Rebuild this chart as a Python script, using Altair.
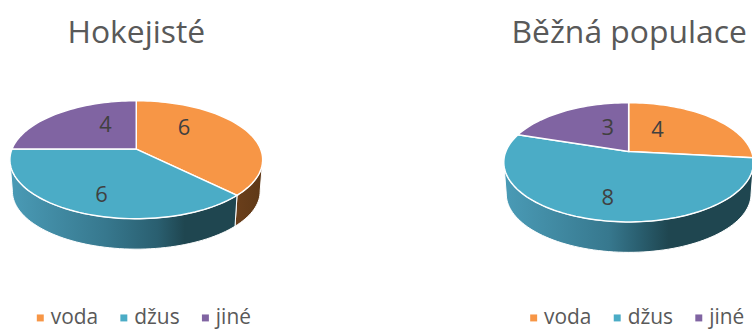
import math
import altair as alt

# Slice names, colours and the two surveys
categories = ["voda", "džus", "jiné"]
top_colors = ["#F79646", "#4BACC6", "#8064A2"]
hokejiste_values = [6, 6, 4]
populace_values = [4, 8, 3]

FONT = "Open Sans"
TILT = 0.18  # strength of the perspective foreshortening
WALL_DROP = 32
WALL_SCALE = 0.98
EDGE_ANGLE = math.degrees(math.acos(-TILT))  # where the rim meets the silhouette


def wall_fill(name, dark_from):
    if name == "voda":
        stops = [("#6B3F1B", 0), ("#5E3817", 1)]
    else:
        stops = [("#4A9BB6", 0), ("#37788E", 0.42), ("#2A5F70", dark_from - 0.12),
                 ("#1F4650", dark_from), ("#1F4650", 1)]
    return alt.Gradient(gradient="linear", x1=0, x2=1, y1=0, y2=0,
                        stops=[alt.GradientStop(color=c, offset=o) for c, o in stops])


def project(theta, rx, ry):
    """Clockwise angle from 12 o'clock to a point of the tilted disc, relative to its apex."""
    u, v = math.sin(math.radians(theta)), -math.cos(math.radians(theta))
    s = 1 / (1 - TILT * v)
    return rx * u * s, ry * v * s


def arc(start, end, rx, ry):
    n = max(2, int(abs(end - start) / 2) + 1)
    return [project(start + (end - start) * i / n, rx, ry) for i in range(n + 1)]


def polygon(points, name, apex):
    ring = [[x + apex[0], y + apex[1]] for x, y in points]
    ring.append(ring[0])
    return {"type": "Feature", "properties": {"slice": name},
            "geometry": {"type": "Polygon", "coordinates": [ring]}}


def panel(values, width, apex, rx, ry, title, title_x, label_offsets, legend_x, dark_from):
    total = sum(values)
    tops, walls, labels = [], [], []
    angle = 0
    for name, value, (dx, dy) in zip(categories, values, label_offsets):
        end = angle + 360 * value / total
        tops.append(polygon([(0, 0)] + arc(angle, end, rx, ry), name, apex))
        lo, hi = max(angle, EDGE_ANGLE), min(end, 360 - EDGE_ANGLE)
        if hi > lo:
            upper = arc(lo, hi, rx, ry)
            lower = [(x * WALL_SCALE, y * WALL_SCALE + WALL_DROP) for x, y in arc(hi, lo, rx, ry)]
            walls.append((name, polygon(upper + lower, name, apex)))
        labels.append({"lon": apex[0] + dx, "lat": apex[1] + dy, "value": value})
        angle = end

    # Both panels share one pixel-identical projection; geometry carries the panel offset
    proj = dict(type="identity", scale=1, translate=[0, 0])
    layers = [
        alt.Chart(alt.Data(values=[feature])).mark_geoshape(
            fill=wall_fill(name, dark_from), stroke="white", strokeWidth=1, clip=True
        ).project(**proj)
        for name, feature in walls
    ]
    layers.append(
        alt.Chart(alt.Data(values=tops)).mark_geoshape(
            stroke="white", strokeWidth=1.5, clip=True
        ).encode(
            color=alt.Color(
                "properties.slice:N",
                scale=alt.Scale(domain=categories, range=top_colors),
                sort=categories,
                legend=alt.Legend(
                    title=None, orient="none", direction="horizontal",
                    legendX=legend_x, legendY=307, symbolType="square", symbolSize=49,
                    symbolStrokeWidth=0, symbolOffset=0, labelFont=FONT, labelFontSize=21,
                    labelColor="#595959", labelOffset=0, columnPadding=15, padding=0,
                ),
            )
        ).project(**proj)
    )
    layers.append(
        alt.Chart(alt.Data(values=labels)).mark_text(
            font=FONT, fontSize=22, color="#404040"
        ).encode(longitude="lon:Q", latitude="lat:Q", text="value:Q").project(**proj)
    )
    layers.append(
        alt.Chart(alt.Data(values=[{"t": title}])).mark_text(
            font=FONT, fontSize=32, color="#595959"
        ).encode(x=alt.value(title_x), y=alt.value(31), text="t:N")
    )
    return alt.layer(*layers).properties(width=width, height=329)


left = panel(hokejiste_values, 376, (136, 148), 125, 57.4, "Hokejisté", 136,
             [(48, -21), (-35, 46), (-31, -24)], 29, 0.77)
right = panel(populace_values, 377, (253, 150.5), 123.5, 58, "Běžná populace", 253.5,
              [(29, -22), (-21, 47), (-21, -24)], 147, 0.66)

chart = (
    alt.hconcat(left, right, spacing=0)
    .resolve_scale(color="independent")
    .properties(padding=0)
    .configure_view(stroke="transparent")
)

chart.save("out.html", embed_options={"renderer": "svg", "actions": False})
